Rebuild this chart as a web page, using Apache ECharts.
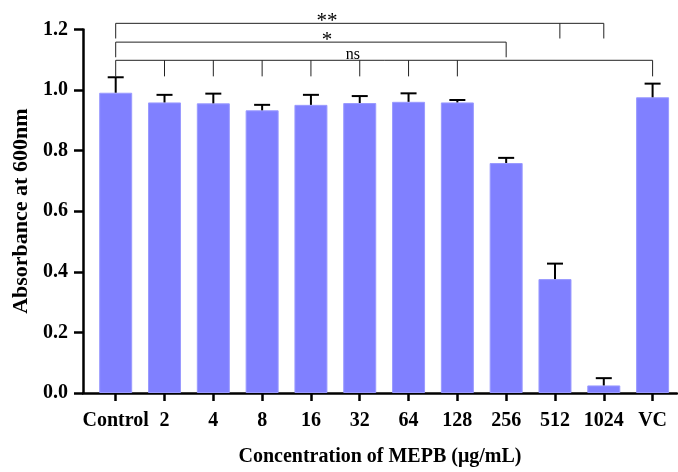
<!DOCTYPE html>
<html>
<head>
<meta charset="utf-8">
<script src="https://cdn.jsdelivr.net/npm/echarts@6/dist/echarts.min.js"></script>
<style>html,body{margin:0;padding:0;background:#fff}#c{width:678px;height:472px}</style>
</head>
<body>
<div id="c"></div>
<script>
// ---- data ----
const categories = ['Control', '2', '4', '8', '16', '32', '64', '128', '256', '512', '1024', 'VC'];
const means = [0.991, 0.959, 0.956, 0.933, 0.951, 0.957, 0.961, 0.959, 0.759, 0.376, 0.025, 0.976];
const errors = [0.051, 0.025, 0.032, 0.018, 0.033, 0.023, 0.028, 0.008, 0.017, 0.051, 0.024, 0.045];
const yTicks = [0, 0.2, 0.4, 0.6, 0.8, 1.0, 1.2];
const sigLabels = ['ns', '*', '**'];
const sigFrom = [0, 0, 0];
const sigTo = [11, 8, 10];
const sigLegs = [[1, 2, 3, 4, 5, 6, 7], [], [9.1]];

// ---- layout constants (not data) ----
const FONT = '"Liberation Serif", "Times New Roman", serif';
const levelY = [1.098, 1.158, 1.220];
const legDrop = [0.053, 0.05, 0.05];
const labelX = [4.86, 4.33, 4.33];

const idx = categories.map((_, i) => i);
const chart = echarts.init(document.getElementById('c'), null, {renderer: 'canvas'});

const option = {
  animation: false,
  backgroundColor: '#fff',
  grid: {left: 83, right: 1, top: 29.4, bottom: 74, containLabel: false},
  xAxis: {
    type: 'value', min: -0.67, max: 11.5,
    name: 'Concentration of MEPB (μg/mL)', nameLocation: 'middle', nameGap: 54,
    nameTextStyle: {fontFamily: FONT, fontWeight: 'bold', fontSize: 20, color: '#000'},
    axisLine: {show: true, onZero: false, lineStyle: {color: '#000', width: 2.5}},
    axisTick: {show: true, customValues: idx, length: 8, lineStyle: {color: '#000', width: 2.5}},
    axisLabel: {customValues: idx, formatter: v => categories[Math.round(v)], margin: 18,
      fontFamily: FONT, fontWeight: 'bold', fontSize: 20, color: '#000'},
    splitLine: {show: false}
  },
  yAxis: {
    type: 'value', min: 0, max: 1.2, interval: 0.2,
    name: 'Absorbance at 600nm', nameLocation: 'middle', nameGap: 51, nameRotate: 90,
    nameTextStyle: {fontFamily: FONT, fontWeight: 'bold', fontSize: 22, color: '#000'},
    axisLine: {show: true, onZero: false, lineStyle: {color: '#000', width: 2.5}},
    axisTick: {show: true, length: 9, lineStyle: {color: '#000', width: 2.5}},
    axisLabel: {formatter: v => v.toFixed(1), margin: 15,
      fontFamily: FONT, fontWeight: 'bold', fontSize: 20, color: '#000'},
    splitLine: {show: false}
  },
  series: [
    {
      type: 'bar',
      data: means.map((v, i) => [i, v]),
      barWidth: 33,
      itemStyle: {color: '#8080ff', borderColor: '#9a9aff', borderWidth: 1},
      z: 2
    },
    {
      type: 'custom',
      data: means.map((v, i) => [i, v, v + errors[i]]),
      z: 3,
      clip: false,
      renderItem: function (params, api) {
        const x = api.value(0);
        const p0 = api.coord([x, api.value(1)]);
        const p1 = api.coord([x, api.value(2)]);
        const st = {stroke: '#000', lineWidth: 2};
        return {type: 'group', children: [
          {type: 'line', shape: {x1: p0[0], y1: p0[1], x2: p1[0], y2: p1[1]}, style: st},
          {type: 'line', shape: {x1: p1[0] - 8, y1: p1[1], x2: p1[0] + 8, y2: p1[1]}, style: st}
        ]};
      }
    },
    {
      type: 'custom',
      data: sigLabels.map((l, i) => [sigFrom[i], sigTo[i]]),
      z: 4,
      clip: false,
      renderItem: function (params, api) {
        const k = params.dataIndex;
        const y = levelY[k], yb = y - legDrop[k];
        const st = {stroke: '#222', lineWidth: 1, fill: null};
        const a = api.coord([sigFrom[k], yb]);
        const b = api.coord([sigFrom[k], y]);
        const c = api.coord([sigTo[k], y]);
        const d = api.coord([sigTo[k], yb]);
        const children = [
          {type: 'polyline', shape: {points: [a, b, c, d]}, style: st}
        ];
        sigLegs[k].forEach(function (lx) {
          const t = api.coord([lx, y]);
          const u = api.coord([lx, yb]);
          children.push({type: 'line', shape: {x1: t[0], y1: t[1], x2: u[0], y2: u[1]}, style: st});
        });
        const tp = api.coord([labelX[k], y]);
        const isNs = sigLabels[k] === 'ns';
        children.push({type: 'text', x: tp[0], y: tp[1] + (isNs ? 2 : 9),
          style: {text: sigLabels[k], fill: '#000', align: 'center', verticalAlign: 'bottom',
            fontFamily: FONT, fontSize: isNs ? 16 : 21}});
        return {type: 'group', children: children};
      }
    }
  ]
};
chart.setOption(option);
</script>
</body>
</html>
